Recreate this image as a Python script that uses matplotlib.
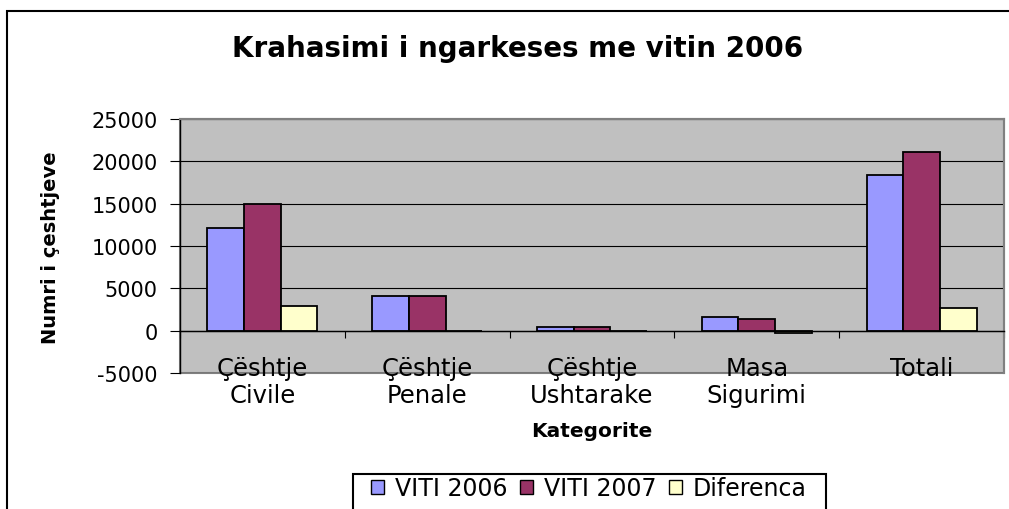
import matplotlib
matplotlib.use("Agg")
import matplotlib.pyplot as plt
from matplotlib.patches import Rectangle, Patch
from matplotlib.ticker import FixedLocator, MultipleLocator
import numpy as np

categories = ["Çështje\nCivile", "Çështje\nPenale", "Çështje\nUshtarake", "Masa\nSigurimi", "Totali"]
viti_2006 = [12130, 4150, 400, 1660, 18350]
viti_2007 = [15000, 4120, 400, 1420, 21100]
diferenca = [2900, -30, 0, -240, 2700]
series_names = ["VITI 2006", "VITI 2007", "Diferenca"]
colors = ["#9999FF", "#993366", "#FFFFCC"]

plt.rcParams['font.family'] = ['DejaVu Sans']
plt.rcParams['axes.unicode_minus'] = False

W, H = 1009, 510
fig = plt.figure(figsize=(W / 100, H / 100), dpi=100)

# outer chart border (right/bottom run off the image)
fig.patches.append(Rectangle((7 / W, -0.2), 1.2, 1 - 12 / H + 0.2, transform=fig.transFigure,
                             fill=False, edgecolor='black', linewidth=1.5, zorder=0))
# legend border (bottom runs off the image)
fig.patches.append(Rectangle((353 / W, -0.2), (826 - 353) / W, 1 - 475 / H + 0.2,
                             transform=fig.transFigure, fill=False, edgecolor='black',
                             linewidth=1.5, zorder=0))

L, R, T, B = 180, 1004, 120, 374
ax = fig.add_axes([L / W, (H - B) / H, (R - L) / W, (B - T) / H])
ax.set_facecolor('#C0C0C0')
ax.patch.set_edgecolor('#808080')
ax.patch.set_linewidth(1.5)

x = np.arange(len(categories))
w = 1 / 4.5
for i, (vals, c, name) in enumerate(zip([viti_2006, viti_2007, diferenca], colors, series_names)):
    ax.bar(x + (i - 1) * w, vals, width=w, color=c, edgecolor='black', linewidth=1.3,
           label=name, zorder=3)

ax.set_xlim(-0.5, len(categories) - 0.5)
ax.set_ylim(-5000, 25000)
ax.yaxis.set_major_locator(MultipleLocator(5000))
ax.grid(axis='y', color='black', linewidth=0.8, zorder=1)
ax.set_axisbelow(True)

for s in ['top', 'right']:
    ax.spines[s].set_color('#808080')
    ax.spines[s].set_linewidth(1.5)
ax.spines['left'].set_color('black')
ax.spines['left'].set_linewidth(1.0)
ax.spines['bottom'].set_position(('data', 0))
ax.spines['bottom'].set_color('black')
ax.spines['bottom'].set_linewidth(1.0)
ax.spines['bottom'].set_zorder(4)

ax.tick_params(axis='y', direction='out', length=7, width=0.8, pad=9, labelsize=15, colors='black')
ax.set_xticks(x)
ax.set_xticklabels(categories, fontsize=17.5, linespacing=1.15)
ax.xaxis.set_minor_locator(FixedLocator(np.arange(-0.5, len(categories), 1.0)))
ax.tick_params(axis='x', which='major', length=0, pad=18)
ax.tick_params(axis='x', which='minor', direction='out', length=5, width=0.8)

fig.text(517.5 / W, 1 - 57 / H, "Krahasimi i ngarkeses me vitin 2006", ha='center', va='baseline',
         fontsize=20, fontweight='bold')
fig.text(51 / W, 1 - 247.5 / H, "Numri i çeshtjeve", ha='center', va='center', rotation=90,
         fontsize=14, fontweight='bold')
fig.text(592 / W, 1 - 437 / H, "Kategorite", ha='center', va='baseline', fontsize=14.5,
         fontweight='bold')

handles = [Patch(facecolor=c, edgecolor='black', linewidth=1.0) for c in colors]
leg = fig.legend(handles, series_names, loc='center left', bbox_to_anchor=(371 / W, 1 - 489 / H),
                 ncol=3, fontsize=17, frameon=False,
                 handlelength=0.55, handleheight=0.55, handletextpad=0.45, columnspacing=0.55,
                 borderpad=0, borderaxespad=0)

fig.savefig("out.png", dpi=100)
